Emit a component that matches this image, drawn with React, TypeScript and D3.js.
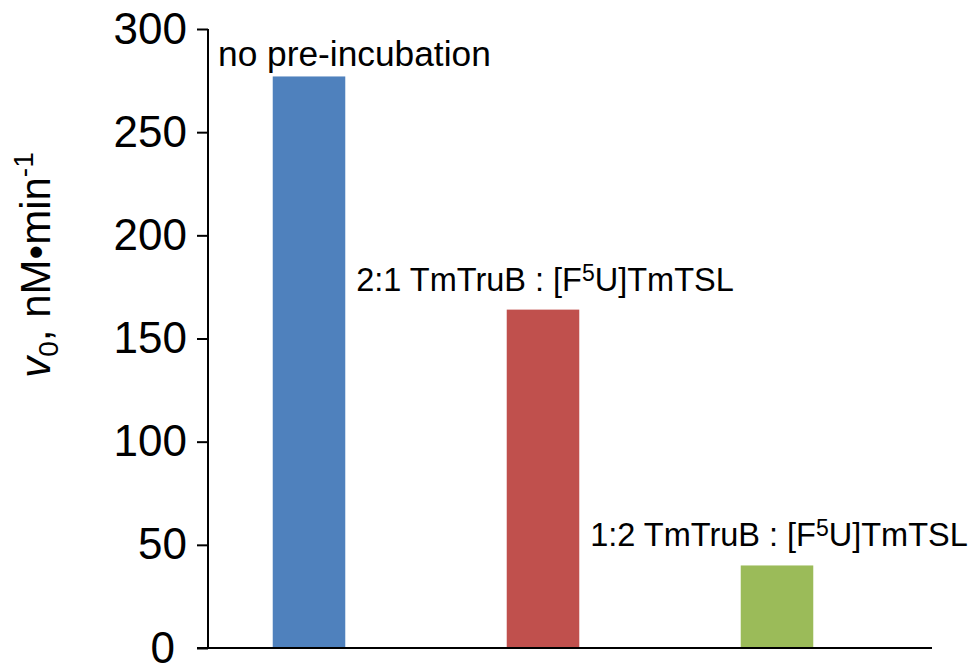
import React, { useEffect, useRef } from "react";
import * as d3 from "d3";

const categories = ["no pre-incubation", "2:1", "1:2"];
const values = [277, 164, 40];
const colors = ["#4F81BD", "#C0504D", "#9BBB59"];
const yTicks = [0, 50, 100, 150, 200, 250, 300];

const W = 977;
const H = 665;

export default function App() {
  const ref = useRef<SVGSVGElement | null>(null);

  useEffect(() => {
    const svg = d3.select(ref.current);
    svg.selectAll("*").remove();

    const y = d3.scaleLinear().domain([0, 300]).range([648, 29]);
    const x = d3
      .scaleBand<string>()
      .domain(categories)
      .range([192, 894])
      .paddingInner(0.69)
      .paddingOuter(0.345);

    const axisX = 208;
    const font = "Liberation Sans, Arial, sans-serif";

    // bars
    svg
      .selectAll("rect.bar")
      .data(categories)
      .enter()
      .append("rect")
      .attr("class", "bar")
      .attr("x", (d) => x(d)!)
      .attr("width", x.bandwidth())
      .attr("y", (d, i) => y(values[i]))
      .attr("height", (d, i) => y(0) - y(values[i]))
      .attr("fill", (d, i) => colors[i]);

    // y axis
    const yAxis = d3
      .axisLeft(y)
      .tickValues(yTicks)
      .tickSize(11)
      .tickPadding(10)
      .tickFormat((d) => String(d));
    const gy = svg.append("g").attr("transform", `translate(${axisX},0)`).call(yAxis);
    gy.select(".domain").remove();
    gy.append("line")
      .attr("x1", 0)
      .attr("x2", 0)
      .attr("y1", y(300))
      .attr("y2", y(0))
      .attr("stroke", "#000")
      .attr("stroke-width", 2);
    gy.selectAll(".tick line").attr("stroke", "#000").attr("stroke-width", 2);
    gy.selectAll(".tick text")
      .attr("font-family", font)
      .attr("font-size", 44)
      .attr("fill", "#000")
      .attr("dx", (d: any) => (d === 0 ? -12 : 0));

    // x axis line
    svg
      .append("line")
      .attr("x1", axisX - 11)
      .attr("x2", 932)
      .attr("y1", y(0))
      .attr("y2", y(0))
      .attr("stroke", "#000")
      .attr("stroke-width", 2);

    // bar labels
    const labelG = svg.append("g").attr("font-family", font).attr("fill", "#000");
    labelG
      .append("text")
      .attr("x", axisX + 10)
      .attr("y", y(values[0]) - 10)
      .attr("font-size", 35.3)
      .text(categories[0]);

    categories.slice(1).forEach((c, k) => {
      const i = k + 1;
      const t = labelG
        .append("text")
        .attr("x", x(c)! + x.bandwidth() / 2 + 2)
        .attr("y", y(values[i]) - 19)
        .attr("text-anchor", "middle")
        .attr("font-size", 32.5);
      t.append("tspan").text(`${c} TmTruB : [F`);
      t.append("tspan").attr("font-size", 23).attr("dy", -10).text("5");
      t.append("tspan").attr("dy", 10).text("U]TmTSL");
    });

    // y axis title
    const title = svg
      .append("text")
      .attr("transform", `translate(50,265) rotate(-90)`)
      .attr("text-anchor", "middle")
      .attr("font-family", font)
      .attr("font-size", 42)
      .attr("fill", "#000");
    title.append("tspan").attr("font-style", "italic").text("v");
    title.append("tspan").attr("font-size", 28).attr("dy", 8).text("0");
    title.append("tspan").attr("dy", -8).text(", nM\u2022min");
    title.append("tspan").attr("font-size", 28).attr("dy", -17).text("-1");
  }, []);

  return (
    <svg
      ref={ref}
      width={W}
      height={H}
      style={{ position: "absolute", left: 0, top: 0, background: "#fff" }}
    />
  );
}
